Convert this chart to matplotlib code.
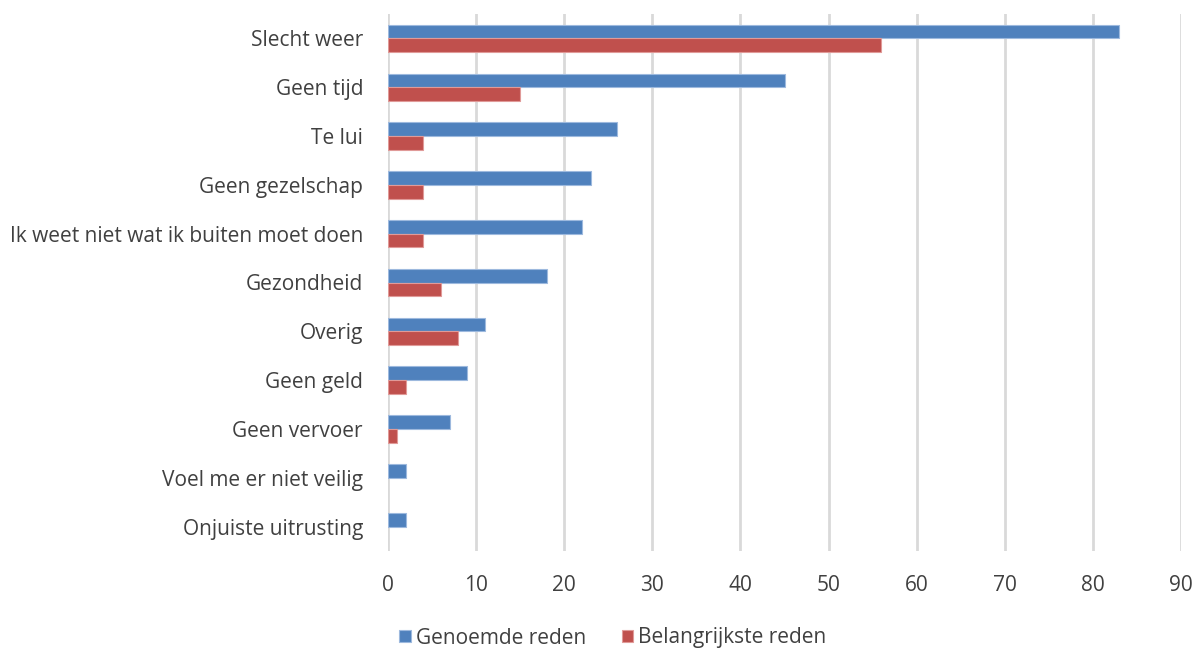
import matplotlib
matplotlib.use("Agg")
import matplotlib.pyplot as plt
import numpy as np

categories = ["Slecht weer", "Geen tijd", "Te lui", "Geen gezelschap",
              "Ik weet niet wat ik buiten moet doen", "Gezondheid", "Overig",
              "Geen geld", "Geen vervoer", "Voel me er niet veilig",
              "Onjuiste uitrusting"]
genoemde = [83, 45, 26, 23, 22, 18, 11, 9, 7, 2, 2]
belangrijkste = [56, 15, 4, 4, 4, 6, 8, 2, 1, 0, 0]
series_names = ["Genoemde reden", "Belangrijkste reden"]
xticks = [0, 10, 20, 30, 40, 50, 60, 70, 80, 90]

plt.rcParams['font.family'] = ['Open Sans', 'DejaVu Sans']
text_color = '#404040'
fs = 15

fig = plt.figure(figsize=(11.96, 6.5), dpi=100)
ax = fig.add_axes([388/1196, 1-551/650, (1181-388)/1196, (551-14)/650])

y = np.arange(len(categories))
h = 0.28
blue = '#4F81BD'
red = '#C0504D'
ax.barh(y - h/2, genoemde, height=h, color=blue, edgecolor='#9DB9DE',
        linewidth=[0.8 if v > 0 else 0 for v in genoemde], label=series_names[0], zorder=3)
ax.barh(y + h/2, belangrijkste, height=h, color=red, edgecolor='#E09A98',
        linewidth=[0.8 if v > 0 else 0 for v in belangrijkste], label=series_names[1], zorder=3)

ax.set_ylim(len(categories) - 0.5, -0.5)
ax.set_xlim(0, 90)
ax.set_yticks(y)
ax.set_yticklabels(categories, fontsize=fs, color=text_color)
ax.set_xticks(xticks)
ax.set_xticklabels([str(t) for t in xticks], fontsize=fs, color=text_color)
ax.tick_params(axis='both', length=0)
ax.tick_params(axis='x', pad=17)
ax.tick_params(axis='y', pad=18)
ax.xaxis.grid(True, color='#D9D9D9', linewidth=2, zorder=0)
for s in ax.spines.values():
    s.set_visible(False)

fig.legend(loc='center', bbox_to_anchor=(613/1196, 1-638/650), ncol=2, frameon=False,
           fontsize=fs, handlelength=0.55, handleheight=0.55, handletextpad=0.25,
           columnspacing=1.7, labelcolor=text_color)

fig.savefig("out.png", dpi=100)
